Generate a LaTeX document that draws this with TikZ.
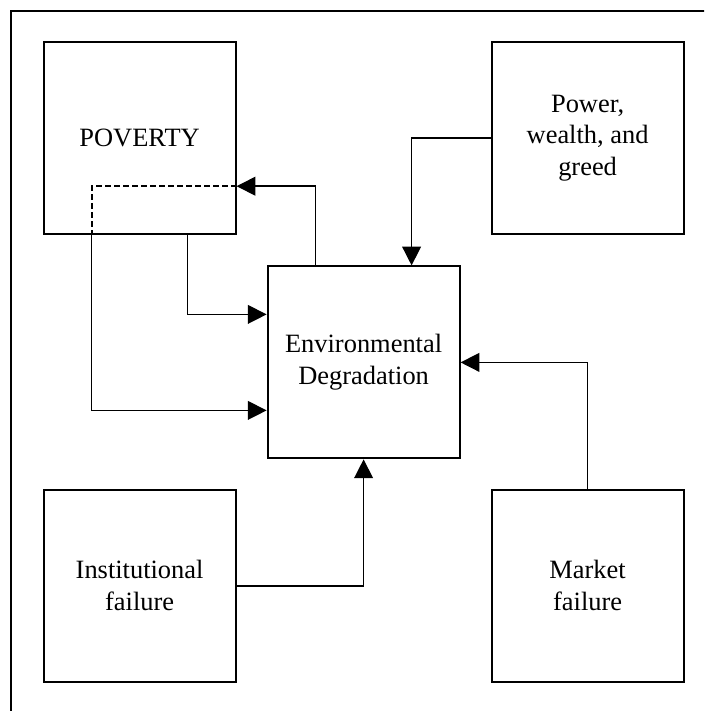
\documentclass[tikz,border=0pt]{standalone}
\usepackage{fontspec}
\setmainfont{Liberation Serif}
\usepackage{tikz}
\usetikzlibrary{arrows.meta}

\begin{document}
\begin{tikzpicture}[
        box/.style = {draw, line width=1.4pt, minimum size=4.8cm, inner sep=0pt, align=center,
                      font=\fontsize{18.8}{22.6}\selectfont},
        flow/.style = {line width=1pt, -{Triangle[length=0.47cm, width=0.47cm]}}
    ]
        \clip (0,0) rectangle (17.6,17.775);
        \draw[line width=1.4pt] (0.275,-1) -- (0.275,17.5) -- (18.6,17.5);

        \node[box] (pov) at (3.49,14.32) {POVERTY};
        \node[box] (pow) at (14.69,14.32) {Power,\\ wealth, and\\ greed};
        \node[box] (env) at (9.09,8.715) {Environmental\\ Degradation};
        \node[box] (inst) at (3.49,3.13) {Institutional\\ failure};
        \node[box] (mkt) at (14.69,3.13) {Market\\ failure};

        \draw[flow] ([xshift=1.2cm]pov.south) |- ([yshift=1.2cm]env.west);
        \draw[flow] ([xshift=-1.2cm]env.north) |- ([yshift=-1.2cm]pov.east);
        \draw[line width=1.3pt, dash pattern=on 0.15cm off 0.075cm] ([yshift=-1.2cm]pov.east) -| ([xshift=-1.2cm]pov.south);
        \draw[flow] ([xshift=-1.2cm]pov.south) |- ([yshift=-1.2cm]env.west);
        \draw[flow] (pow.west) -| ([xshift=1.2cm]env.north);
        \draw[flow] (mkt.north) |- (env.east);
        \draw[flow] (inst.east) -| (env.south);
\end{tikzpicture}
\end{document}
